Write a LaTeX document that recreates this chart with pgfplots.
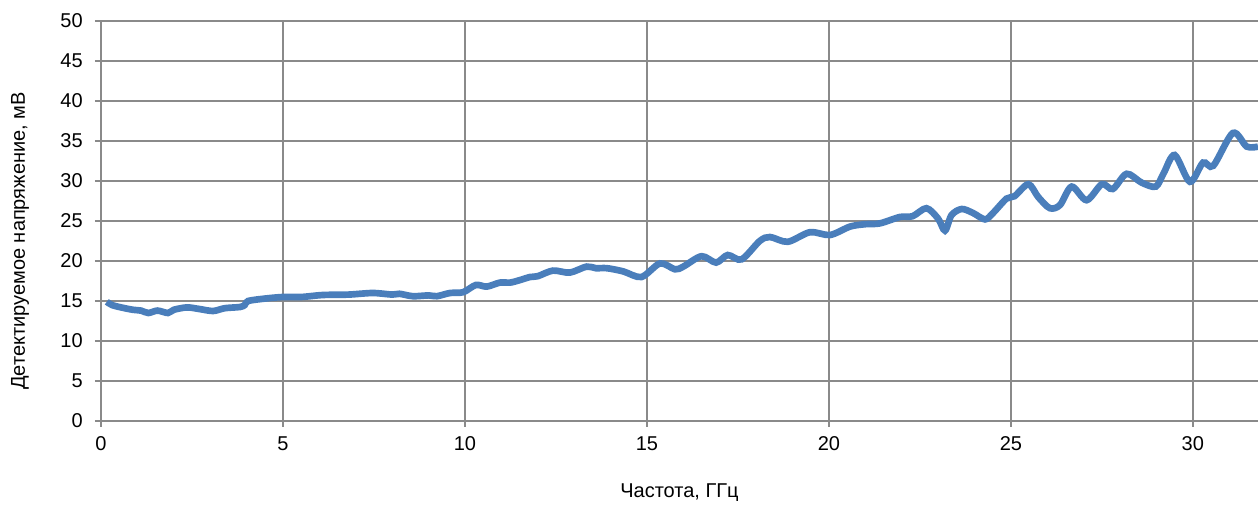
\documentclass[border=0pt]{standalone}
\usepackage{pgfplots}
\pgfplotsset{compat=1.18}
\usepackage{fontspec}
\setmainfont{Liberation Sans}
\definecolor{linec}{HTML}{4A7EBB}
\definecolor{gridc}{HTML}{8A8A8A}
\begin{document}
\fontsize{15}{17}\selectfont
\begin{tikzpicture}
\begin{axis}[name=ax, scale only axis, width=867.75pt, height=300pt,
  xmin=0, xmax=31.79, ymin=0, ymax=50,
  xtick={0,5,...,30}, ytick={0,5,...,50},
  axis x line=bottom, axis y line=left,
  axis line style={-, gridc, line width=1.5pt},
  grid=major, major grid style={gridc, line width=1.5pt},
  tick style={gridc, line width=1.5pt}, tick align=outside, major tick length=4.5pt,
  ticklabel style={font=\fontsize{15}{17}\selectfont, black},
  yticklabel style={xshift=-4pt},
  xticklabel style={yshift=-2pt},
  /pgf/number format/assume math mode=true,
  xlabel={Частота, ГГц}, ylabel={Детектируемое напряжение, мВ},
  xlabel style={at={(axis description cs:0.5,0)}, anchor=center, yshift=-54pt, font=\fontsize{15}{17}\selectfont},
  ylabel style={at={(axis description cs:-0.070,0.45)}, anchor=center, font=\fontsize{15}{17}\selectfont},
  clip=true]
\addplot[linec, line width=5pt, smooth, tension=0.5] coordinates {
(0.16,14.9) (0.3,14.5) (0.55,14.2) (0.88,13.9) (1.1,13.8) (1.3,13.5) (1.55,13.8) (1.84,13.5)
(2.0,13.9) (2.36,14.2) (2.7,14.0) (3.08,13.75) (3.4,14.1) (3.82,14.25) (3.95,14.5) (4.04,15.0)
(4.5,15.3) (5.0,15.5) (5.5,15.5) (6.1,15.75) (6.8,15.8) (7.47,16.0) (8.0,15.8) (8.2,15.9)
(8.57,15.6) (9.0,15.7) (9.23,15.6) (9.59,16.0) (9.95,16.1) (10.3,17.0) (10.6,16.8) (10.96,17.3)
(11.24,17.3) (11.5,17.6) (11.79,18.0) (12.0,18.1) (12.42,18.8) (12.88,18.55) (13.34,19.3)
(13.6,19.1) (13.9,19.1) (14.35,18.7) (14.85,18.0) (15.36,19.7) (15.77,18.96) (16.0,19.3)
(16.5,20.6) (16.9,19.8) (17.22,20.75) (17.6,20.2) (18.1,22.5) (18.38,23.0) (18.87,22.4)
(19.48,23.6) (20.03,23.25) (20.58,24.3) (21.0,24.6) (21.4,24.7) (21.95,25.5) (22.3,25.6)
(22.68,26.6) (23.0,25.3) (23.19,23.8) (23.37,25.75) (23.65,26.5) (23.96,26.0) (24.29,25.2)
(24.51,26.0) (24.88,27.8) (25.1,28.1) (25.48,29.6) (25.75,28.0) (26.07,26.6) (26.35,27.0)
(26.67,29.3) (27.08,27.6) (27.5,29.6) (27.8,29.0) (28.18,30.9) (28.59,29.8) (28.98,29.3)
(29.2,31.0) (29.5,33.25) (29.92,29.9) (30.28,32.3) (30.56,31.9) (31.1,36.0) (31.48,34.3) (31.79,34.3)
};
\end{axis}
\pgfresetboundingbox
\path ([xshift=-75.75pt,yshift=-63pt]ax.south west) rectangle ([yshift=15.75pt]ax.north east);
\end{tikzpicture}
\end{document}
